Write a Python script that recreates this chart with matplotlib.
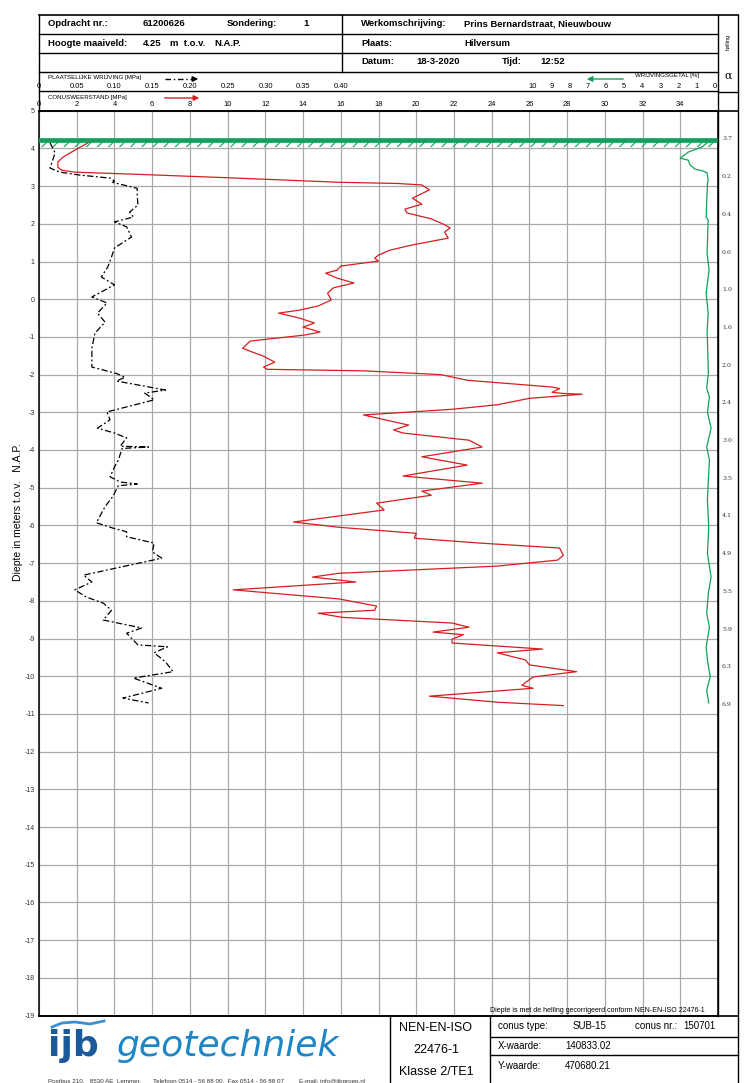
import matplotlib
matplotlib.use('Agg')
import matplotlib.pyplot as plt
from matplotlib import transforms

plt.rcParams['font.family'] = ['Liberation Sans', 'DejaVu Sans']
plt.rcParams['hatch.linewidth'] = 0.8
plt.rcParams['axes.unicode_minus'] = False

# ---------------------------------------------------------------------------
# Data (read off the reference sounding)
# ---------------------------------------------------------------------------
ground_level = 4.25  # m t.o.v. NAP

# cone resistance qc [MPa] vs level [m NAP]
qc_level = [4.15, 3.88, 3.77, 3.64, 3.50, 3.42, 3.37, 3.32, 3.22, 3.10, 3.07, 3.03,
            2.90, 2.68, 2.52, 2.39, 2.29, 2.13, 2.00, 1.89, 1.78, 1.62, 1.44, 1.30,
            1.17, 1.09, 1.01, 0.88, 0.77, 0.69, 0.56, 0.43, 0.30, 0.16, -0.02, -0.18,
            -0.29, -0.37, -0.50, -0.63, -0.74, -0.87, -0.95, -1.11, -1.30, -1.40, -1.51,
            -1.67, -1.80, -1.86, -1.90, -2.00, -2.15, -2.33, -2.37, -2.47, -2.50, -2.52,
            -2.63, -2.80, -2.92, -3.07, -3.34, -3.47, -3.55, -3.74, -3.92, -4.18, -4.40,
            -4.69, -4.88, -5.09, -5.20, -5.41, -5.59, -5.91, -6.05, -6.21, -6.34, -6.47,
            -6.60, -6.79, -6.92, -7.08, -7.27, -7.37, -7.50, -7.71, -7.95, -8.14, -8.25,
            -8.33, -8.44, -8.59, -8.70, -8.83, -8.90, -9.02, -9.12, -9.28, -9.38, -9.57,
            -9.70, -9.88, -10.02, -10.24, -10.32, -10.53, -10.69, -10.78]
qc = [2.6, 1.65, 1.28, 1.0, 1.0, 1.2, 1.9, 4.8, 10.1, 16.0, 19.0, 20.3,
      20.7, 19.8, 20.3, 19.4, 19.5, 20.8, 21.4, 21.8, 21.5, 21.7, 19.8, 18.6,
      18.0, 17.8, 18.0, 16.0, 15.8, 15.2, 15.8, 16.7, 15.6, 15.3, 15.5, 14.8,
      13.8, 12.7, 13.8, 14.6, 14.0, 14.9, 14.1, 11.2, 10.8, 11.3, 11.9,
      12.5, 11.9, 12.1, 17.2, 21.3, 22.7, 27.2, 27.6, 27.2, 27.8, 28.8,
      26.0, 24.3, 21.9, 17.2, 19.6, 18.8, 19.3, 22.8, 23.5, 20.3, 22.7,
      19.3, 23.5, 20.3, 20.8, 17.9, 18.3, 13.5, 15.9, 20.0, 19.9, 23.4,
      27.6, 27.8, 27.5, 24.3, 15.9, 14.5, 16.8, 10.3, 15.9, 17.9, 17.8,
      14.8, 16.1, 21.9, 22.8, 20.9, 22.5, 21.9, 21.9, 26.7, 24.3, 25.8,
      26.0, 28.5, 26.2, 25.6, 26.2, 20.7, 24.3, 27.8]

# local friction fs [MPa]
fs_level = [4.15, 3.88, 3.64, 3.48, 3.37, 3.29, 3.21, 3.13, 3.10, 2.94, 2.76, 2.50,
            2.31, 2.18, 2.05, 1.92, 1.65, 1.36, 1.12, 0.85, 0.59, 0.38, 0.06, -0.10,
            -0.37, -0.61, -0.90, -1.30, -1.80, -1.97, -2.07, -2.17, -2.41, -2.49, -2.67,
            -2.99, -3.20, -3.42, -3.55, -3.68, -3.90, -3.92, -3.96, -4.27, -4.45, -4.71,
            -4.85, -4.90, -4.95, -5.24, -5.50, -5.93, -6.07, -6.17, -6.30, -6.47, -6.70,
            -6.87, -7.13, -7.32, -7.50, -7.71, -7.90, -8.06, -8.25, -8.51, -8.72, -8.86,
            -9.17, -9.22, -9.38, -9.62, -9.88, -10.05, -10.32, -10.58, -10.71]
fs = [0.0145, 0.0213, 0.0173, 0.0145, 0.0275, 0.055, 0.095, 0.100, 0.0975, 0.130, 0.130, 0.131,
      0.120, 0.125, 0.100, 0.116, 0.1225, 0.100, 0.096, 0.091, 0.0825, 0.100, 0.070, 0.090,
      0.0775, 0.0875, 0.074, 0.070, 0.070, 0.1025, 0.114, 0.1025, 0.1675, 0.140, 0.1525,
      0.090, 0.094, 0.0775, 0.100, 0.116, 0.1075, 0.145, 0.110, 0.105, 0.100, 0.094,
      0.1075, 0.130, 0.105, 0.0975, 0.0875, 0.076, 0.0975, 0.116, 0.116, 0.1525, 0.150,
      0.1625, 0.1025, 0.059, 0.070, 0.0475, 0.0625, 0.085, 0.096, 0.085, 0.136, 0.116,
      0.131, 0.170, 0.1525, 0.1675, 0.1775, 0.125, 0.1625, 0.111, 0.145]

# friction ratio Rf [%]
rf_level = [4.15, 4.04, 3.90, 3.74, 3.69, 3.56, 3.45, 3.40, 3.35, 3.16, 3.08, 2.18, 2.10,
            1.22, 0.78, 0.16, -0.37, -0.90, -1.08, -1.96, -2.36, -2.60, -3.00, -3.42,
            -3.92, -4.27, -4.80, -5.33, -6.05, -6.74, -7.37, -7.80, -8.33, -8.70, -9.23,
            -9.57, -10.02, -10.37, -10.71]
rf = [0.44, 0.71, 1.48, 1.92, 1.48, 1.37, 1.10, 0.66, 0.44, 0.38, 0.42, 0.49, 0.38,
      0.44, 0.33, 0.49, 0.38, 0.44, 0.42, 0.37, 0.46, 0.31, 0.42, 0.22,
      0.46, 0.31, 0.37, 0.42, 0.35, 0.42, 0.22, 0.37, 0.46, 0.31, 0.49,
      0.42, 0.27, 0.46, 0.35]

# inclination (helling) printed per metre of penetration
helling_level = [4.25, 3.25, 2.25, 1.25, 0.25, -0.75, -1.75, -2.75, -3.75, -4.75,
                 -5.75, -6.75, -7.75, -8.75, -9.75, -10.75]
helling = ['3.7', '0.2', '0.4', '0.6', '1.0', '1.6', '2.0', '2.4', '3.0', '3.5',
           '4.1', '4.9', '5.5', '5.9', '6.3', '6.9']

qc_ticks = list(range(0, 35, 2))
fs_ticks = [0, 0.05, 0.10, 0.15, 0.20, 0.25, 0.30, 0.35, 0.40]
rf_ticks = list(range(0, 11))
depth_ticks = list(range(-19, 6))

RED = '#d41f1f'
GREEN = '#13a05a'
GRID = '#a9a9a9'

W, H = 750, 1083
fig = plt.figure(figsize=(W / 100, H / 100), dpi=100)
fig.patch.set_facecolor('white')

# plot frame in pixels
L, R, T, B = 39, 718, 110.7, 1015.5
ax = fig.add_axes([L / W, 1 - B / H, (R - L) / W, (B - T) / H])
ax.set_xlim(0, 36)
ax.set_ylim(-19, 5)
ax.set_xticks(range(0, 37, 2))
ax.set_yticks(depth_ticks)
ax.grid(True, color=GRID, lw=0.9)
ax.set_axisbelow(True)
ax.tick_params(axis='x', length=0, labelbottom=False)
ax.tick_params(axis='y', length=0, pad=3, labelsize=5, labelcolor='#333333')
for s in ax.spines.values():
    s.set_linewidth(1.1)

ax_fs = ax.twiny()
ax_fs.set_xlim(0, 0.899)
ax_rf = ax.twiny()
ax_rf.set_xlim(37.14, -0.16)
for a in (ax_fs, ax_rf):
    a.set_xticks([])
    for s in a.spines.values():
        s.set_visible(False)

# ground level marker
ax.axhline(ground_level - 0.04, color=GREEN, lw=3.4, zorder=3)
ax.fill_between([0, 36], 4.03, 4.17, facecolor='none', edgecolor=GREEN,
                hatch='///', lw=0, zorder=3)

ax.plot(qc, qc_level, color=RED, lw=0.9, zorder=4)
ax_fs.plot(fs, fs_level, color='black', lw=0.9, ls=(0, (5, 2, 1.5, 2)), zorder=4)
ax_rf.plot(rf, rf_level, color=GREEN, lw=0.9, zorder=4)

# ---------------------------------------------------------------------------
# header / footer overlay (pixel coordinates)
# ---------------------------------------------------------------------------
over = fig.add_axes([0, 0, 1, 1], zorder=5)
over.set_xlim(0, W)
over.set_ylim(H, 0)
over.axis('off')
over.patch.set_alpha(0)

k = dict(color='black', lw=1.0)
for y in (15, 110.7):
    over.plot([L, 738], [y, y], color='black', lw=1.2)
for y in (34, 53, 72, 91):
    over.plot([L, R], [y, y], **k)
over.plot([718, 738], [92, 92], **k)
over.plot([L, L], [15, T], **k)
over.plot([342, 342], [15, 72], **k)
over.plot([R, R], [15, B], **k)
over.plot([738, 738], [15, H], **k)
over.plot([L, 738], [B, B], color='black', lw=1.2)
over.plot([390, 390], [B, H], **k)
over.plot([490, 490], [B, H], **k)
for y in (1037, 1055):
    over.plot([490, 738], [y, y], **k)

hb = dict(fontsize=6.8, fontweight='bold', va='center', ha='left')
over.text(48, 24, 'Opdracht nr.:', **hb)
over.text(143, 24, '61200626', **hb)
over.text(227, 24, 'Sondering:', **hb)
over.text(303, 24, '1', **hb)
over.text(361, 24, 'Werkomschrijving:', **hb)
over.text(464, 24, 'Prins Bernardstraat, Nieuwbouw', **hb)
over.text(48, 43, 'Hoogte maaiveld:', **hb)
over.text(143, 43, f'{ground_level:.2f}', **hb)
over.text(170, 43, 'm  t.o.v.', **hb)
over.text(214, 43, 'N.A.P.', **hb)
over.text(361, 43, 'Plaats:', **hb)
over.text(464, 43, 'Hilversum', **hb)
over.text(361, 62, 'Datum:', **hb)
over.text(416, 62, '18-3-2020', **hb)
over.text(502, 62, 'Tijd:', **hb)
over.text(540, 62, '12:52', **hb)

over.text(728, 42, 'helling', fontsize=4, rotation=90, ha='center', va='center')
over.text(728, 76, 'α', fontsize=8, family='DejaVu Serif', ha='center', va='center')

# scale rows
over.text(48, 77, 'PLAATSELIJKE WRIJVING [MPa]', fontsize=4.4, va='center')
over.plot([165, 191], [79, 79], color='black', lw=1, ls=(0, (4, 2, 1, 2)))
over.annotate('', xy=(201, 79), xytext=(189, 79),
              arrowprops=dict(arrowstyle='-|>', color='black', lw=1, mutation_scale=8))
over.text(48, 97, 'CONUSWEERSTAND [MPa]', fontsize=4.4, va='center')
over.annotate('', xy=(202, 98), xytext=(162, 98),
              arrowprops=dict(arrowstyle='-|>', color=RED, lw=1, mutation_scale=8))
over.text(699, 76, 'WRIJVINGSGETAL [%]', fontsize=4.4, va='center', ha='right')
over.annotate('', xy=(584, 79), xytext=(626, 79),
              arrowprops=dict(arrowstyle='-|>', color=GREEN, lw=1, mutation_scale=8))

tr_qc = transforms.blended_transform_factory(ax.transData, over.transData)
tr_fs = transforms.blended_transform_factory(ax_fs.transData, over.transData)
tr_rf = transforms.blended_transform_factory(ax_rf.transData, over.transData)
for v in qc_ticks:
    over.text(v, 105, str(v), transform=tr_qc, fontsize=5.4, ha='center', va='center')
for v in fs_ticks:
    lab = '0' if v == 0 else f'{v:.2f}'
    over.text(v, 86, lab, transform=tr_fs, fontsize=5.4, ha='center', va='center')
for v in rf_ticks:
    over.text(v, 86, str(v), transform=tr_rf, fontsize=5.4, ha='center', va='center')

# inclination column
tr_hel = transforms.blended_transform_factory(over.transData, ax.transData)
for lev, lab in zip(helling_level, helling):
    over.text(722, lev, lab, transform=tr_hel, fontsize=4.5, family='DejaVu Serif',
              ha='left', va='center', color='#333333')

over.text(18, 512, 'Diepte in meters t.o.v.   N.A.P.', fontsize=7.5, rotation=90,
          ha='center', va='center')

# footer
over.text(597, 1011, 'Diepte is met de helling gecorrigeerd conform NEN-EN-ISO 22476-1',
          fontsize=5, ha='center', va='center')
for y, s in ((1028, 'NEN-EN-ISO'), (1050, '22476-1'), (1072, 'Klasse 2/TE1')):
    over.text(436, y, s, fontsize=9, ha='center', va='center')
fb = dict(fontsize=7, va='center', ha='left')
over.text(498, 1026, 'conus type:', **fb)
over.text(573, 1026, 'SUB-15', **fb)
over.text(635, 1026, 'conus nr.:', **fb)
over.text(683, 1026, '150701', **fb)
over.text(498, 1046, 'X-waarde:', **fb)
over.text(565, 1046, '140833.02', **fb)
over.text(498, 1066, 'Y-waarde:', **fb)
over.text(565, 1066, '470680.21', **fb)

# logo
over.plot([52, 62, 75, 90, 104], [1027, 1023, 1022, 1024, 1021], color='#3a8fd0', lw=2)
over.text(48, 1056, 'ijb', fontsize=26, fontweight='bold', color='#1b5a9a',
          family='DejaVu Sans', va='baseline')
over.text(117, 1056, 'geotechniek', fontsize=26, style='italic', color='#1f86c6',
          family='DejaVu Sans', va='baseline')
addr = dict(fontsize=4.5, va='center', color='#333333')
over.text(48, 1081, 'Postbus 210,   8530 AE  Lemmer,', **addr)
over.text(153, 1081, 'Telefoon 0514 - 56 88 00,  Fax 0514 - 56 88 07', **addr)
over.text(299, 1081, 'E-mail: info@ijbgroep.nl', **addr)

fig.savefig('out.png', dpi=100, facecolor='white')
